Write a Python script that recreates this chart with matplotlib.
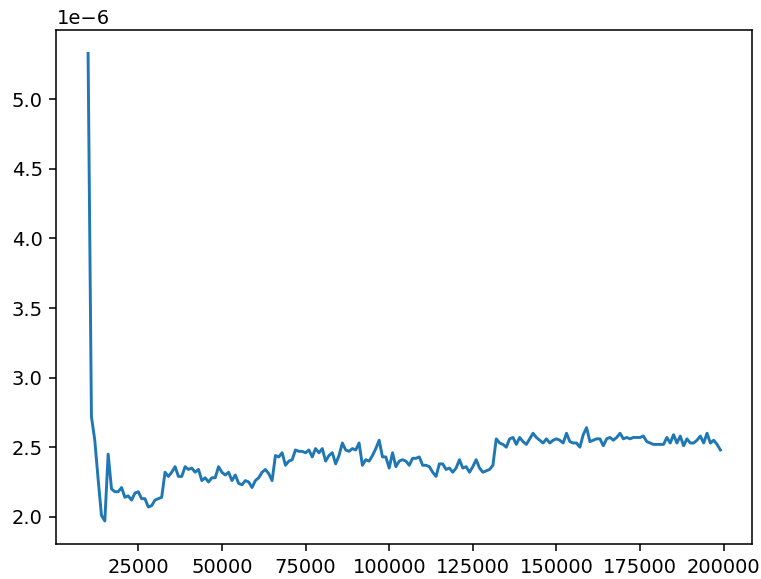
import numpy as np
import matplotlib
matplotlib.use("Agg")
import matplotlib.pyplot as plt

# sample sizes, one point every 1000
n = np.arange(10000, 200000, 1000)

# values in units of 1e-6 in runs of points
seg_a = [5.33, 2.72, 2.55, 2.27, 2.01, 1.97, 2.45, 2.20, 2.18, 2.18, 2.21, 2.14, 2.15,
         2.12, 2.17, 2.18, 2.13, 2.13, 2.07, 2.08, 2.12, 2.13, 2.14, 2.32, 2.29, 2.32]
seg_b = [2.36, 2.29, 2.29, 2.36, 2.34, 2.35, 2.32, 2.34, 2.26, 2.28, 2.25, 2.28, 2.28,
         2.36, 2.32, 2.30, 2.32, 2.26, 2.30, 2.24, 2.23, 2.26, 2.25, 2.21, 2.26, 2.28, 2.32]
seg_c = [2.34, 2.31, 2.26, 2.44, 2.43, 2.46, 2.37, 2.40, 2.41, 2.48, 2.47, 2.47, 2.46,
         2.48, 2.43, 2.49, 2.46, 2.49, 2.40, 2.44, 2.46, 2.38, 2.44, 2.53, 2.48, 2.47, 2.49]
seg_d = [2.48, 2.53, 2.37, 2.41, 2.40, 2.44, 2.49, 2.55, 2.43, 2.43, 2.35, 2.46, 2.36,
         2.40, 2.41, 2.40, 2.37, 2.42, 2.42, 2.43, 2.37, 2.37, 2.36, 2.32, 2.29, 2.38, 2.38]
seg_e = [2.34, 2.35, 2.32, 2.35, 2.41, 2.35, 2.36, 2.32, 2.36, 2.41, 2.35, 2.32, 2.33,
         2.34, 2.37, 2.56, 2.53, 2.52, 2.50, 2.56, 2.57, 2.52, 2.57, 2.54, 2.52, 2.56, 2.60]
seg_f = [2.57, 2.55, 2.53, 2.56, 2.53, 2.55, 2.56, 2.55, 2.53, 2.60, 2.54, 2.53, 2.53,
         2.50, 2.59, 2.64, 2.54, 2.55, 2.56, 2.56, 2.51, 2.56, 2.57, 2.55, 2.57, 2.60,
         2.56, 2.57]
seg_g = [2.56, 2.57, 2.57, 2.57, 2.58, 2.54, 2.53, 2.52, 2.52, 2.52, 2.52, 2.57, 2.53,
         2.59, 2.53, 2.58, 2.51, 2.56, 2.53, 2.53, 2.55, 2.58, 2.53, 2.60, 2.53, 2.55,
         2.52, 2.48]

vals = np.array(seg_a + seg_b + seg_c + seg_d + seg_e + seg_f + seg_g) * 1e-6

fig = plt.figure(figsize=(761 / 140, 579 / 140), dpi=140)
ax = fig.add_axes([0.0742, 0.0599, 0.9140, 0.8883])
ax.plot(n, vals)

fig.savefig("out.png", dpi=140)
